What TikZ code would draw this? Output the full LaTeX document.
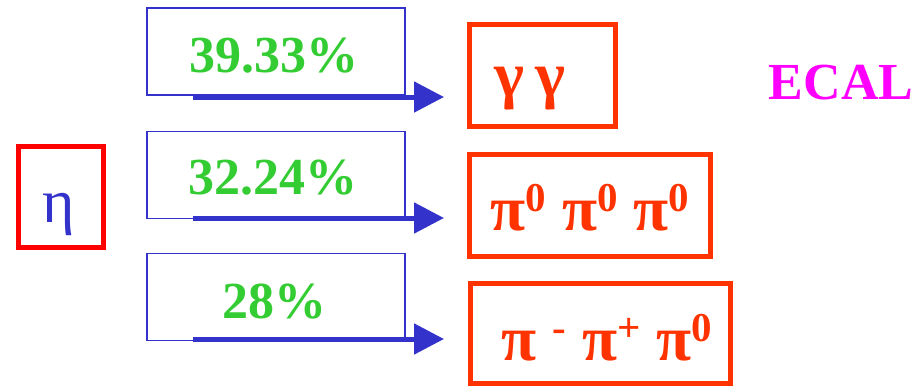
\documentclass[tikz,border=0pt]{standalone}
\usepackage{fontspec}
\setmainfont{Liberation Serif}
\usetikzlibrary{arrows.meta}
\definecolor{boxblue}{HTML}{3333CC}
\definecolor{pctgreen}{HTML}{33CC33}
\definecolor{decred}{HTML}{FF3300}
\definecolor{etared}{HTML}{FF0000}
\definecolor{ecalmag}{HTML}{FF00FF}
\newcommand\supx[1]{\raisebox{19pt}{\fontsize{41}{41}\selectfont\bfseries #1}}
\tikzset{
  bluebox/.style={draw=boxblue, line width=1.5pt, minimum width=258pt, minimum height=87pt, inner sep=0pt},
  redbox/.style={draw=decred, line width=5pt, inner sep=0pt},
  pct/.style={text=pctgreen, font=\fontsize{52}{52}\selectfont\bfseries, inner sep=0pt, anchor=base},
  dec/.style={text=decred, font=\fontsize{64}{64}\selectfont\bfseries, inner sep=0pt, anchor=base},
  flow/.style={draw=boxblue, line width=5pt, -{Triangle[length=30pt,width=30pt]}},
}
\begin{document}
\begin{tikzpicture}[x=1pt,y=-1pt]
\useasboundingbox (0,0) rectangle (920,386);
% eta
\node[draw=etared, line width=5pt, minimum width=85pt, minimum height=101pt, inner sep=0pt] (eta) at (61,197) {};
\node[text=boxblue, font=\fontsize{62}{62}\selectfont, inner sep=0pt, anchor=base] (etat) at (59,222) {η};
% blue boxes
\node[bluebox] (b1) at (276,51.5) {};
\node[bluebox] (b2) at (276,175) {};
\node[bluebox] (b3) at (276,297) {};
\node[pct] (p1) at (274,72) {39.33\%};
\node[pct] (p2) at (273,194) {32.24\%};
\node[pct] (p3) at (274,318) {28\%};
% red boxes
\node[redbox, minimum width=146pt, minimum height=102pt] (r1) at (542.5,75.5) {};
\node[redbox, minimum width=241pt, minimum height=102pt] (r2) at (590,205.5) {};
\node[redbox, minimum width=260pt, minimum height=100pt] (r3) at (600.5,333) {};
\node[dec] (t1) at (530,96) {γ\,γ};
\node[dec] (t2) at (590,230) {π\supx{0} π\supx{0} π\supx{0}};
\node[dec] (t3) at (607,360) {π \supx{-} π\supx{+} π\supx{0}};
% ECAL
\node[text=ecalmag, font=\fontsize{52}{52}\selectfont\bfseries, inner sep=0pt, anchor=base] (ecal) at (841,99) {ECAL};
% arrows
\coordinate (a1s) at (193,97);
\coordinate (a1e) at (444,97);
\coordinate (a2s) at (193,218);
\coordinate (a2e) at (444,218);
\coordinate (a3s) at (193,339);
\coordinate (a3e) at (444,339);
\draw[flow] (a1s) -- (a1e);
\draw[flow] (a2s) -- (a2e);
\draw[flow] (a3s) -- (a3e);
\end{tikzpicture}
\end{document}
